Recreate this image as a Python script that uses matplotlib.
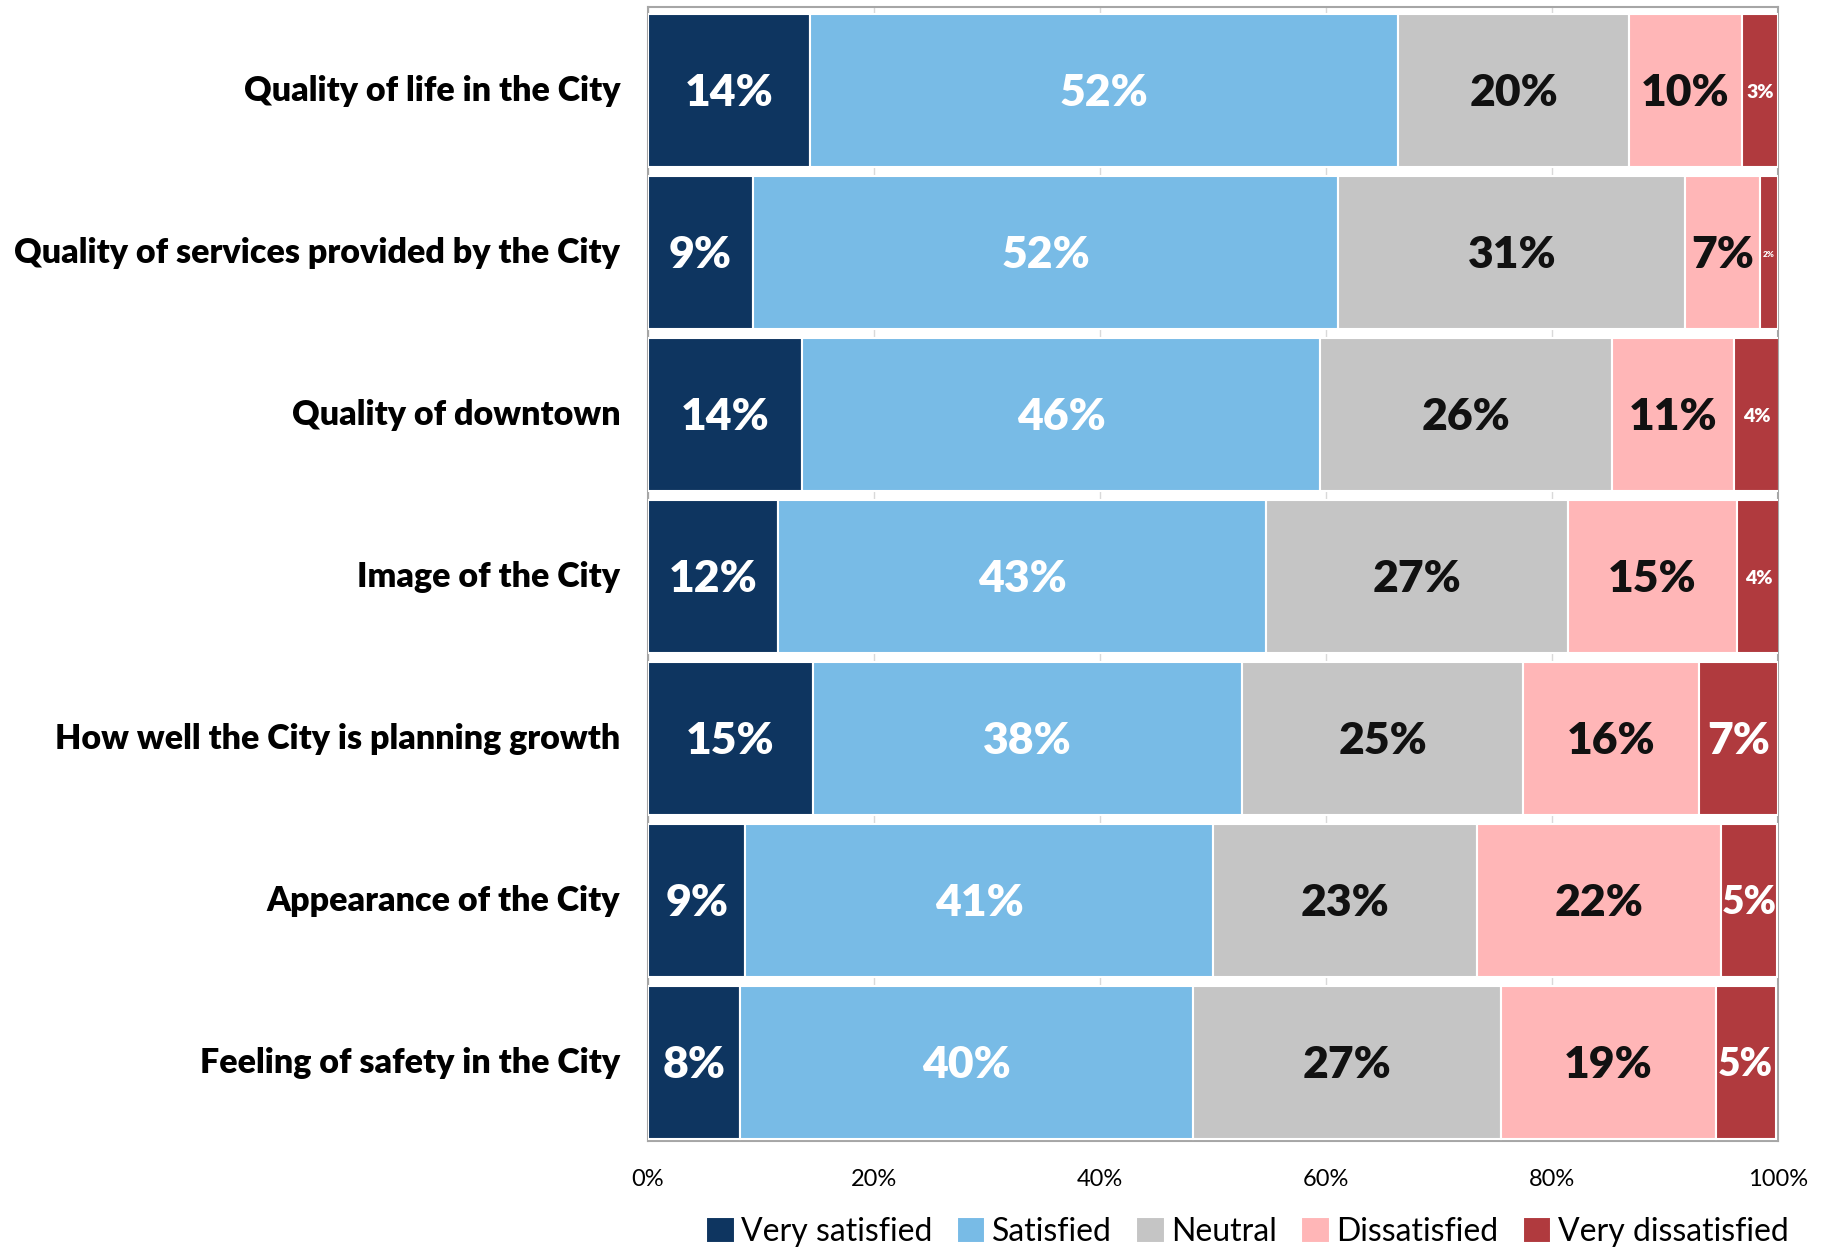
import numpy as np
import matplotlib
matplotlib.use("Agg")
import matplotlib.pyplot as plt

plt.rcParams['font.family'] = ['Lato', 'DejaVu Sans']

# ── Data ─────────────────────────────────────────────────────────────────────
categories = [
    "Quality of life in the City",
    "Quality of services provided by the City",
    "Quality of downtown",
    "Image of the City",
    "How well the City is planning growth",
    "Appearance of the City",
    "Feeling of safety in the City",
]
levels = ["Very satisfied", "Satisfied", "Neutral", "Dissatisfied", "Very dissatisfied"]

very_satisfied    = [14.3, 9.3, 13.6, 11.5, 14.6, 8.6, 8.1]
satisfied         = [52.1, 51.8, 45.9, 43.2, 38.0, 41.4, 40.1]
neutral           = [20.4, 30.7, 25.8, 26.7, 24.8, 23.4, 27.3]
dissatisfied      = [10.0, 6.6, 10.8, 15.0, 15.6, 21.6, 19.0]
very_dissatisfied = [3.2, 1.6, 4.0, 3.8, 7.0, 4.9, 5.3]

colors      = ['#0E3560', '#78BBE6', '#C5C5C5', '#FFB6B7', '#B03A3E']
text_colors = ['white', 'white', '#111111', '#111111', 'white']

series = [very_satisfied, satisfied, neutral, dissatisfied, very_dissatisfied]

fig = plt.figure(figsize=(18.26, 12.5), dpi=100)
ax = fig.add_axes([0.3549, 0.0872, 0.6188, 0.9072])

y = np.arange(len(categories))
left = np.zeros(len(categories))
for k, (vals, col) in enumerate(zip(series, colors)):
    vals = np.array(vals)
    ax.barh(y + 0.015, vals, left=left, height=0.945, color=col, edgecolor='white',
            linewidth=1.5, label=levels[k], zorder=3)
    # etiket persen di tengah tiap segmen
    for i, v in enumerate(vals):
        if v < 2.5:
            fs = 6
        elif v < 4.5:
            fs = 14
        elif v < 6:
            fs = 28
        else:
            fs = 32
        ax.text(left[i] + v / 2, i + 0.03, f"{int(round(v))}%", ha='center', va='center',
                color=text_colors[k], fontsize=fs, fontweight='heavy', zorder=4)
    left += vals

ax.set_xlim(0, 100)
ax.set_ylim(len(categories) - 0.5, -0.5)
ax.set_yticks(y)
ax.set_yticklabels(categories, fontsize=24.5, fontweight='heavy')
ax.tick_params(axis='y', length=0, pad=20)
ax.set_xticks(np.arange(0, 101, 20))
ax.set_xticklabels([f"{t}%" for t in range(0, 101, 20)], fontsize=17)
ax.tick_params(axis='x', length=0, pad=20)
ax.xaxis.grid(True, color='#D9D9D9', linewidth=1, zorder=0)
for s in ax.spines.values():
    s.set_color('#A6A6A6')
    s.set_linewidth(1.5)

fig.legend(loc='center', bbox_to_anchor=(0.683, 0.0144), ncol=5, frameon=False,
           fontsize=23, handlelength=0.9, handleheight=0.9, handletextpad=0.2,
           columnspacing=0.76)

fig.savefig("out.png", dpi=100, facecolor='white')
